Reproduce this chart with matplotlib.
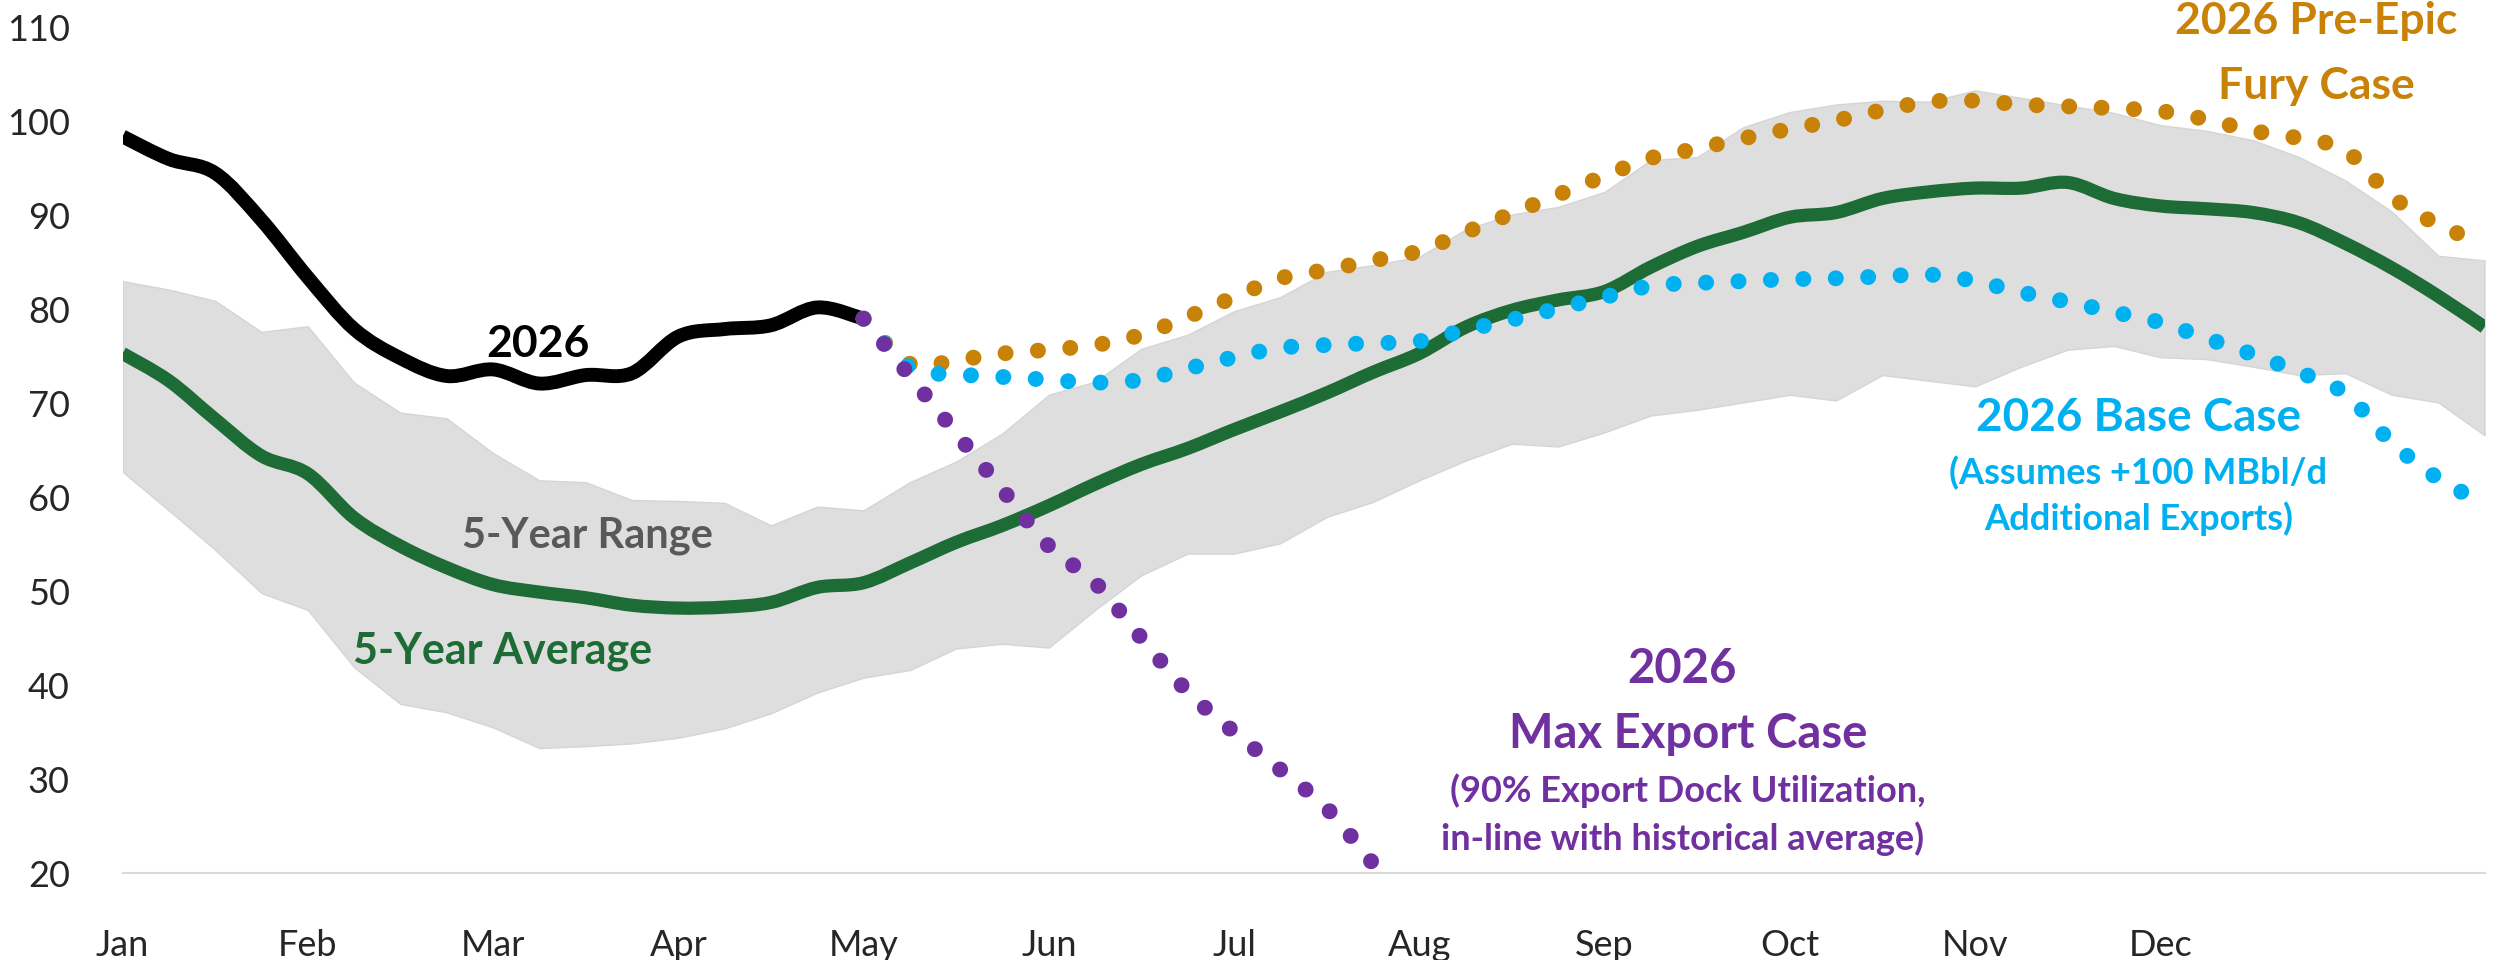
import matplotlib
matplotlib.use("Agg")
import matplotlib.pyplot as plt
from matplotlib.path import Path
from matplotlib.patches import PathPatch

plt.rcParams['font.family'] = ['Lato', 'DejaVu Sans']

# weekly index, labels every 4 weeks
weeks = list(range(52))
month_weeks = [0, 4, 8, 12, 16, 20, 24, 28, 32, 36, 40, 44]
month_labels = ["Jan", "Feb", "Mar", "Apr", "May", "Jun",
                "Jul", "Aug", "Sep", "Oct", "Nov", "Dec"]

range_high = [83.0, 82.1, 80.9, 77.6, 78.2, 72.2, 69.0, 68.4, 64.7, 61.8,
              61.6, 59.7, 59.6, 59.4, 57.0, 59.0, 58.6, 61.6, 63.8, 66.8,
              70.9, 72.3, 75.8, 77.3, 79.8, 81.3, 84.0, 84.7, 85.6, 88.5,
              90.1, 90.9, 92.5, 95.9, 96.2, 99.4, 101.0, 101.8, 102.2, 102.1,
              103.3, 102.5, 101.7, 100.9, 99.6, 99.0, 98.0, 96.2, 93.7, 90.4,
              85.7, 85.2]
range_low = [62.7, 58.6, 54.4, 49.8, 48.0, 41.9, 38.0, 37.1, 35.5, 33.3,
             33.5, 33.8, 34.4, 35.4, 37.0, 39.2, 40.8, 41.6, 43.9, 44.4,
             44.0, 48.0, 51.7, 54.0, 54.0, 55.1, 57.9, 59.5, 61.8, 63.9,
             65.7, 65.4, 66.9, 68.7, 69.3, 70.1, 70.9, 70.3, 73.0, 72.4,
             71.8, 73.9, 75.7, 76.1, 74.9, 74.7, 73.9, 73.0, 73.2, 70.9,
             70.1, 66.6]
avg_5yr = [75.3, 72.4, 68.3, 64.4, 62.5, 57.8, 54.8, 52.5, 50.7, 49.9,
           49.3, 48.5, 48.2, 48.3, 48.8, 50.4, 50.9, 53.0, 55.2, 57.0,
           59.1, 61.4, 63.5, 65.2, 67.2, 69.1, 71.1, 73.3, 75.3, 78.1,
           79.9, 81.0, 81.9, 84.5, 86.7, 88.2, 89.8, 90.3, 91.8, 92.5,
           92.9, 92.9, 93.5, 91.8, 91.0, 90.7, 90.3, 89.2, 87.0, 84.4,
           81.4, 78.1]

# 2026 actuals through week 16
actual_2026 = [98.4, 96.0, 94.5, 89.5, 83.4, 77.9, 74.8, 72.9, 73.6, 72.1,
               73.0, 73.2, 77.1, 77.9, 78.3, 80.2, 79.0]

# projections start from the last actual week
proj_start = 16
pre_epic = [79.0, 74.2, 74.6, 75.3, 75.7, 76.2, 77.3, 79.2, 81.3, 83.3,
            84.2, 85.2, 86.2, 88.2, 90.2, 92.2, 94.2, 96.1, 97.1, 98.2,
            99.2, 100.1, 101.2, 102.1, 102.2, 101.8, 101.6, 101.4, 101.1, 100.2,
            99.0, 98.2, 96.9, 92.0, 89.0, 87.0]
base_case = [79.0, 73.8, 73.1, 72.8, 72.5, 72.2, 72.5, 73.7, 74.9, 75.9,
             76.2, 76.4, 76.6, 77.8, 78.9, 80.1, 81.3, 82.5, 82.8, 83.0,
             83.2, 83.3, 83.5, 83.7, 83.0, 81.8, 80.8, 79.7, 78.6, 76.9,
             75.2, 73.3, 71.0, 65.8, 62.0, 59.3]
max_export = [79.0, 72.9, 66.8, 60.8, 54.8, 50.9, 45.0, 39.3, 35.0, 31.0,
              26.9, 21.0, 15.0]

BLACK = "#000000"
GREEN = "#1D6B35"
GRAY_BAND = "#DEDEDE"
GRAY_TXT = "#595959"
ORANGE = "#C98208"
BLUE = "#00B0F0"
PURPLE = "#7030A0"


def smooth_path(xs, ys):
    # smoothed line through the points (cubic Bezier segments, like Excel's smoothing)
    pts = list(zip(xs, ys))
    n = len(pts)
    verts = [pts[0]]
    codes = [Path.MOVETO]
    for i in range(n - 1):
        p0 = pts[max(i - 1, 0)]
        p1 = pts[i]
        p2 = pts[i + 1]
        p3 = pts[min(i + 2, n - 1)]
        c1 = (p1[0] + (p2[0] - p0[0]) / 6, p1[1] + (p2[1] - p0[1]) / 6)
        c2 = (p2[0] - (p3[0] - p1[0]) / 6, p2[1] - (p3[1] - p1[1]) / 6)
        verts += [c1, c2, p2]
        codes += [Path.CURVE4] * 3
    return Path(verts, codes)


def add_line(ax, xs, ys, **kw):
    patch = PathPatch(smooth_path(xs, ys), fill=False, **kw)
    ax.add_patch(patch)
    return patch


fig = plt.figure(figsize=(24.96, 9.6), dpi=100)
ax = fig.add_axes([0.0491, 0.0906, 0.9463, 0.8808])

ax.fill_between(weeks, range_low, range_high, facecolor=GRAY_BAND,
                edgecolor='#D5D5D5', lw=1, zorder=1)
add_line(ax, weeks, avg_5yr, edgecolor=GREEN, lw=9.5, capstyle='butt',
         joinstyle='round', zorder=3)
add_line(ax, weeks[:len(actual_2026)], actual_2026, edgecolor=BLACK, lw=10,
         capstyle='butt', joinstyle='round', zorder=4)

for series, col, z in [(pre_epic, ORANGE, 5), (base_case, BLUE, 6),
                       (max_export, PURPLE, 7)]:
    xs = weeks[proj_start:proj_start + len(series)]
    add_line(ax, xs, series, edgecolor=col, lw=11.5,
             linestyle=(0, (0.001, 2.03)), capstyle='round', zorder=z)

ax.set_xlim(0, 51)
ax.set_ylim(20, 110)
ax.set_yticks(range(20, 111, 10))
ax.set_xticks(month_weeks, month_labels)
ax.tick_params(axis='both', length=0, labelsize=26, colors='#262626')
ax.tick_params(axis='y', pad=38)
ax.tick_params(axis='x', pad=40)
for side in ['left', 'right', 'top']:
    ax.spines[side].set_visible(False)
ax.spines['bottom'].set_color('#D9D9D9')
ax.spines['bottom'].set_linewidth(1.5)
ax.spines['bottom'].set_zorder(2)

bold = dict(fontweight='bold', ha='center', va='baseline')
ax.text(8.97, 74.9, "2026", color=BLACK, fontsize=32, **bold)
ax.text(10.03, 54.6, "5-Year Range", color=GRAY_TXT, fontsize=30, **bold)
ax.text(8.2, 42.3, "5-Year Average", color=GREEN, fontsize=31, **bold)

ax.text(47.37, 109.3, "2026 Pre-Epic", color=ORANGE, fontsize=32, **bold)
ax.text(47.37, 102.4, "Fury Case", color=ORANGE, fontsize=32, **bold)

ax.text(43.53, 67.1, "2026 Base Case", color=BLUE, fontsize=33, **bold)
ax.text(43.53, 61.4, "(Assumes +100 MBbl/d", color=BLUE, fontsize=26, **bold)
ax.text(43.53, 56.5, "Additional Exports)", color=BLUE, fontsize=26, **bold)

ax.text(33.66, 40.2, "2026", color=PURPLE, fontsize=34, **bold)
ax.text(33.8, 33.3, "Max Export Case", color=PURPLE, fontsize=34, **bold)
ax.text(33.8, 27.6, "(90% Export Dock Utilization,", color=PURPLE,
        fontsize=26, **bold)
ax.text(33.68, 22.4, "in-line with historical average)", color=PURPLE,
        fontsize=26, **bold)

fig.savefig("out.png", dpi=100)
